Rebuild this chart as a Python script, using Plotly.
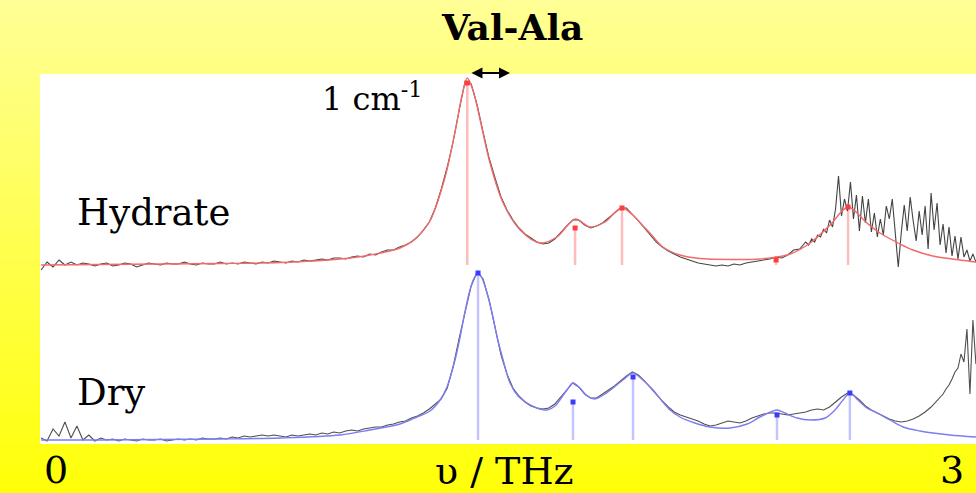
import numpy as np
import plotly.graph_objects as go

# ---------------------------------------------------------------
# Val-Ala THz absorption spectra: hydrate (offset) and dry forms
# ---------------------------------------------------------------

# measured spectra: coarse sampling every 0.02 THz from -0.05 THz,
# finer 0.01 THz sampling over the noisy high-frequency end
COARSE_START, COARSE_STEP = -0.05, 0.02
FINE_STEP = 0.01

# hydrate: coarse part (-0.05 ... 2.51 THz)
HYD_MEAS_COARSE = [
    -0.5, 0.3, -0.2, 0.5, 0.0, 0.3, 0.0, 0.2, 0.1, -0.1,
    0.1, 0.2, -0.1, 0.0, 0.2, 0.1, -0.2, 0.0, 0.2, 0.1,
    0.0, 0.2, 0.1, 0.1, 0.3, 0.1, 0.0, 0.2, 0.1, 0.1,
    0.3, 0.1, 0.2, 0.1, 0.3, 0.2, 0.1, 0.3, 0.2, 0.4,
    0.3, 0.2, 0.4, 0.3, 0.5, 0.4, 0.5, 0.6, 0.5, 0.7,
    0.7, 0.6, 0.8, 0.9, 0.8, 1.1, 1.0, 1.3, 1.5, 1.5,
    1.8, 2.0, 2.3, 2.8, 3.5, 4.3, 5.7, 7.6, 9.8, 12.4,
    15.5, 18.4, 18.1, 16.0, 13.3, 10.7, 8.7, 6.8, 5.5, 4.5,
    3.7, 3.1, 2.7, 2.3, 2.1, 2.2, 2.6, 3.3, 3.9, 4.5,
    4.5, 4.0, 3.7, 3.9, 4.2, 4.7, 5.2, 5.7, 5.7, 5.1,
    4.4, 3.7, 3.0, 2.3, 1.8, 1.4, 1.1, 0.8, 0.6, 0.4,
    0.2, 0.1, 0.0, -0.1, 0.0, -0.1, 0.1, 0.0, 0.2, 0.3,
    0.4, 0.5, 0.6, 0.8, 0.7, 1.0, 1.5, 1.6, 2.3,
]
# hydrate: fine part (2.52 ... 3.09 THz)
HYD_FINE_START = 2.52
HYD_MEAS_FINE = [
    2.0, 2.6, 2.3, 3.0, 2.8, 3.6, 3.2, 4.5, 3.8, 5.6,
    8.9, 4.9, 6.6, 5.4, 8.3, 4.6, 7.0, 3.4, 6.9, 4.2,
    6.6, 3.3, 5.2, 2.8, 4.6, 3.0, 5.9, 4.6, 6.6, 2.9,
    -0.2, 3.2, 6.0, 3.4, 6.8, 4.4, 2.4, 5.4, 3.0, 5.9,
    1.6, 7.2, 3.5, 6.2, 2.0, 4.1, 1.2, 3.8, 0.9, 2.9,
    0.6, 2.8, 0.8, 1.5, 0.4, 1.1, 0.3, 0.5,
]

# dry: coarse part (-0.05 ... 2.93 THz)
DRY_MEAS_COARSE = [
    0.6, 0.3, 1.5, 0.8, 2.2, 0.6, 1.8, 0.4, 0.9, 0.3,
    0.6, 0.4, 0.5, 0.3, 0.5, 0.4, 0.3, 0.5, 0.4, 0.4,
    0.5, 0.3, 0.4, 0.5, 0.4, 0.5, 0.4, 0.6, 0.5, 0.5,
    0.6, 0.5, 0.7, 0.6, 0.8, 0.7, 0.8, 0.9, 0.8, 0.9,
    0.8, 0.7, 0.9, 0.8, 0.9, 1.0, 0.9, 1.1, 1.0, 1.2,
    1.1, 1.3, 1.4, 1.3, 1.5, 1.6, 1.7, 1.7, 1.9, 2.0,
    2.2, 2.3, 2.6, 2.8, 3.1, 3.5, 4.0, 4.5, 5.6, 7.8,
    10.6, 13.2, 15.8, 17.2, 16.5, 14.4, 11.5, 8.9, 7.0, 5.6,
    4.8, 4.2, 3.8, 3.6, 3.5, 3.6, 4.0, 4.7, 5.5, 6.1,
    5.7, 5.0, 4.6, 4.6, 5.0, 5.4, 5.8, 6.3, 6.8, 7.2,
    6.9, 6.3, 5.6, 4.9, 4.3, 3.7, 3.2, 2.9, 2.7, 2.5,
    2.3, 2.0, 1.8, 1.9, 2.1, 2.3, 2.2, 2.1, 2.3, 2.6,
    2.8, 3.0, 3.1, 3.1, 3.0, 2.9, 3.0, 3.1, 3.2, 3.4,
    3.5, 3.4, 3.7, 4.2, 4.7, 5.1, 4.9, 4.4, 3.8, 3.4,
    3.1, 2.8, 2.5, 2.3, 2.2, 2.3, 2.5, 2.8, 3.2, 3.7,
]
# dry: fine part (2.95 ... 3.09 THz)
DRY_FINE_START = 2.95
DRY_MEAS_FINE = [
    4.3, 4.7, 5.0, 5.5, 5.9, 6.5, 7.2, 7.6, 9.0, 8.2,
    11.5, 5.0, 12.4, 8.0, 10.5,
]

# fitted spectrum, hydrate (frequency in THz, absorbance in a.u.)
HYD_FIT_F = [-0.050, 0.147, 0.348, 0.549, 0.750, 0.951, 1.051, 1.152, 1.202,
             1.252, 1.302, 1.336, 1.359, 1.377, 1.396, 1.420, 1.453, 1.497,
             1.554, 1.621, 1.677, 1.738, 1.788, 1.838, 1.895, 1.979, 2.032,
             2.089, 2.156, 2.257, 2.357, 2.458, 2.525, 2.592, 2.652, 2.715,
             2.759, 2.826, 2.869, 2.936, 3.027, 3.080]
HYD_FIT_V = [0.00, 0.05, 0.10, 0.15, 0.25, 0.60, 1.00, 1.70, 2.60,
             4.40, 8.70, 13.30, 16.90, 18.70, 17.50, 14.50, 10.20, 6.20,
             3.50, 2.20, 2.80, 4.60, 3.80, 4.30, 5.70, 3.50, 1.80,
             1.00, 0.65, 0.55, 0.60, 1.10, 2.20, 4.00, 5.80, 4.20,
             3.20, 2.10, 1.50, 0.90, 0.50, 0.30]

# fitted spectrum, dry
DRY_FIT_F = [-0.050, 0.147, 0.348, 0.549, 0.750, 0.951, 1.051, 1.152, 1.209,
             1.252, 1.286, 1.309, 1.336, 1.353, 1.369, 1.386, 1.400, 1.413,
             1.426, 1.443, 1.460, 1.477, 1.497, 1.520, 1.547, 1.577, 1.610,
             1.644, 1.671, 1.687, 1.711, 1.731, 1.754, 1.778, 1.805, 1.838,
             1.865, 1.898, 1.932, 1.965, 1.999, 2.029, 2.056, 2.089, 2.139,
             2.190, 2.257, 2.314, 2.357, 2.401, 2.414, 2.441, 2.481, 2.525,
             2.575, 2.608, 2.635, 2.658, 2.685, 2.715, 2.749, 2.792, 2.836,
             2.893, 2.936, 2.993, 3.080]
DRY_FIT_V = [0.40, 0.40, 0.45, 0.50, 0.60, 0.90, 1.40, 2.00, 2.70,
             3.30, 4.40, 5.70, 8.40, 10.70, 13.20, 15.40, 16.60, 17.10,
             16.60, 15.10, 13.10, 10.70, 8.40, 6.10, 4.80, 4.10, 3.60,
             3.40, 3.80, 4.40, 5.40, 6.10, 5.60, 4.80, 4.50, 5.00,
             5.60, 6.40, 7.10, 6.40, 5.40, 4.30, 3.40, 2.70, 2.10,
             1.70, 1.60, 2.00, 2.70, 3.30, 3.40, 3.10, 2.60, 2.40,
             2.60, 3.40, 4.40, 5.10, 4.40, 3.60, 3.10, 2.40, 1.70,
             1.30, 1.10, 0.90, 0.70]

# fitted mode positions (THz) and stick heights (a.u.)
HYD_MODES = [1.377, 1.738, 1.895, 2.411, 2.652]
HYD_MODE_TOPS = [18.2, 3.7, 5.7, 0.5, 5.8]
DRY_MODES = [1.413, 1.731, 1.932, 2.414, 2.658]
DRY_MODE_TOPS = [17.1, 4.2, 6.7, 2.9, 5.1]

HYD_BASE = 0.0
DRY_BASE = 0.4
HYDRATE_OFFSET = 17.9          # vertical offset of the hydrate trace

X_RANGE = [-0.0536, 3.0803]
Y_RANGE = [0.0, 37.0]
TICK_VALS = [0, 3]
TICK_TEXT = ["0", "3"]

SERIF = "DejaVu Serif"

W, H = 976, 493
M_L, M_R, M_T, M_B = 40, 0, 74, 49
PLOT_W = W - M_L - M_R
PLOT_H = H - M_T - M_B


def grid(start, step, n):
    return np.round(start + step * np.arange(n), 3)


hyd_freq = np.concatenate([
    grid(COARSE_START, COARSE_STEP, len(HYD_MEAS_COARSE)),
    grid(HYD_FINE_START, FINE_STEP, len(HYD_MEAS_FINE))])
hyd_meas = np.array(HYD_MEAS_COARSE + HYD_MEAS_FINE)

dry_freq = np.concatenate([
    grid(COARSE_START, COARSE_STEP, len(DRY_MEAS_COARSE)),
    grid(DRY_FINE_START, FINE_STEP, len(DRY_MEAS_FINE))])
dry_meas = np.array(DRY_MEAS_COARSE + DRY_MEAS_FINE)


def sticks(xs, tops, base, offset):
    """Vertical drop lines from the baseline to each mode height."""
    sx, sy = [], []
    for x, t in zip(xs, tops):
        sx += [x, x, None]
        sy += [base + offset, t + offset, None]
    return sx, sy


fig = go.Figure()

# ---- hydrate ----
hx, hy = sticks(HYD_MODES, HYD_MODE_TOPS, HYD_BASE, HYDRATE_OFFSET)
fig.add_trace(go.Scatter(x=hx, y=hy, mode="lines",
                         line=dict(color="#FFBCBC", width=2.5),
                         hoverinfo="skip"))
fig.add_trace(go.Scatter(x=hyd_freq, y=hyd_meas + HYDRATE_OFFSET,
                         mode="lines",
                         line=dict(color="rgba(20,20,20,0.8)", width=1.1)))
fig.add_trace(go.Scatter(x=HYD_FIT_F, y=np.array(HYD_FIT_V) + HYDRATE_OFFSET,
                         mode="lines",
                         line=dict(color="#F26A6A", width=1.4,
                                   shape="spline", smoothing=0.9)))
fig.add_trace(go.Scatter(x=HYD_MODES,
                         y=np.array(HYD_MODE_TOPS) + HYDRATE_OFFSET,
                         mode="markers",
                         marker=dict(color="#FF3B3B", size=5, symbol="square")))

# ---- dry ----
dx, dy = sticks(DRY_MODES, DRY_MODE_TOPS, DRY_BASE, 0.0)
fig.add_trace(go.Scatter(x=dx, y=dy, mode="lines",
                         line=dict(color="#C4C4FF", width=2.5),
                         hoverinfo="skip"))
fig.add_trace(go.Scatter(x=dry_freq, y=dry_meas, mode="lines",
                         line=dict(color="rgba(20,20,20,0.75)", width=1.1)))
fig.add_trace(go.Scatter(x=DRY_FIT_F, y=DRY_FIT_V, mode="lines",
                         line=dict(color="#7C7CF4", width=1.4,
                                   shape="spline", smoothing=0.9)))
fig.add_trace(go.Scatter(x=DRY_MODES, y=DRY_MODE_TOPS, mode="markers",
                         marker=dict(color="#3B3BFF", size=5, symbol="square")))

# ---- background: yellow vertical gradient with a white plotting panel ----
shapes = []
n_strips = 80
top_rgb = np.array([255, 255, 150])
bot_rgb = np.array([255, 255, 8])
for k in range(n_strips):
    py0 = k * H / n_strips
    py1 = (k + 1) * H / n_strips + 0.6
    t = (k + 0.5) / n_strips
    r, g, b = (top_rgb + (bot_rgb - top_rgb) * t).round().astype(int)
    shapes.append(dict(
        type="rect", xref="paper", yref="paper", layer="below",
        x0=-M_L / PLOT_W - 0.01, x1=1.01,
        y0=(PLOT_H + M_T - py1) / PLOT_H, y1=(PLOT_H + M_T - py0) / PLOT_H,
        fillcolor=f"rgb({r},{g},{b})", line=dict(width=0)))
shapes.append(dict(type="rect", xref="paper", yref="paper", layer="below",
                   x0=0, x1=1, y0=0, y1=1, fillcolor="white",
                   line=dict(width=0)))

annotations = [
    dict(text="Hydrate", x=0.065, y=23.2, xref="x", yref="y",
         xanchor="left", yanchor="middle", showarrow=False,
         font=dict(family=SERIF, size=37, color="black")),
    dict(text="Dry", x=0.065, y=5.2, xref="x", yref="y",
         xanchor="left", yanchor="middle", showarrow=False,
         font=dict(family=SERIF, size=37, color="black")),
    dict(text="1 cm<sup>-1</sup>", x=1.235, y=34.7, xref="x", yref="y",
         xanchor="right", yanchor="middle", showarrow=False,
         font=dict(family=SERIF, size=32, color="black")),
    # resolution marker: double-headed arrow
    dict(text="", x=1.520, y=1.0027, xref="x", yref="paper",
         ax=1.386, ay=0, axref="x", ayref="pixel",
         showarrow=True, arrowside="end+start", arrowhead=2,
         arrowsize=1.0, arrowwidth=2.2, arrowcolor="black",
         standoff=0, startstandoff=0),
    dict(text="\u03c5 / THz", x=1.5, y=-0.073, xref="x", yref="paper",
         xanchor="center", yanchor="middle", showarrow=False,
         font=dict(family=SERIF, size=38, color="black")),
]

fig.update_layout(
    width=W, height=H, autosize=False,
    margin=dict(l=M_L, r=M_R, t=M_T, b=M_B),
    paper_bgcolor="rgb(255,255,60)",
    plot_bgcolor="rgba(0,0,0,0)",
    showlegend=False,
    font=dict(family=SERIF),
    shapes=shapes,
    annotations=annotations,
    title=dict(text="<b>Val-Ala</b>", x=0.505, xref="paper", xanchor="center",
               y=1 - 27 / H, yref="container", yanchor="middle",
               font=dict(family=SERIF, size=36, color="black")),
    xaxis=dict(range=X_RANGE, showgrid=False, zeroline=False, showline=False,
               tickvals=TICK_VALS, ticktext=TICK_TEXT, ticks="",
               tickfont=dict(family=SERIF, size=38, color="black"),
               fixedrange=True),
    yaxis=dict(range=Y_RANGE, visible=False, fixedrange=True),
)

fig.write_html("out.html")
